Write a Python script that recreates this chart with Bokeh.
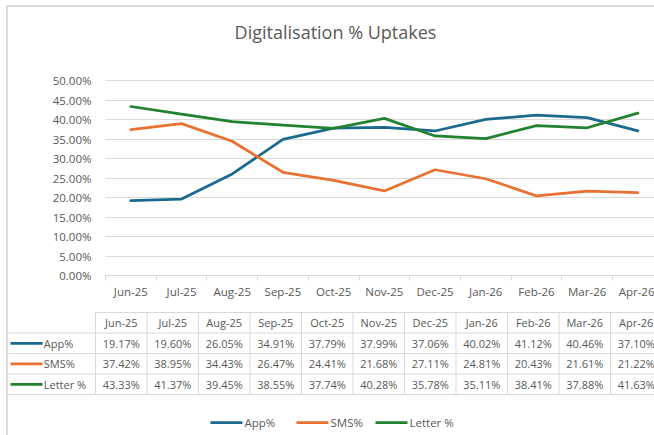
from bokeh.plotting import figure
from bokeh.models import Range1d, FixedTicker, NumeralTickFormatter
from bokeh.layouts import column
from bokeh.core.properties import value
from bokeh.embed import file_html
from bokeh.resources import INLINE

# ---- data ----
months = ["Jun-25", "Jul-25", "Aug-25", "Sep-25", "Oct-25", "Nov-25",
          "Dec-25", "Jan-26", "Feb-26", "Mar-26", "Apr-26"]
app_pct = [19.17, 19.60, 26.05, 34.91, 37.79, 37.99, 37.06, 40.02, 41.12, 40.46, 37.10]
sms_pct = [37.42, 38.95, 34.43, 26.47, 24.41, 21.68, 27.11, 24.81, 20.43, 21.61, 21.22]
letter_pct = [43.33, 41.37, 39.45, 38.55, 37.74, 40.28, 35.78, 35.11, 38.41, 37.88, 41.63]
series_names = ["App%", "SMS%", "Letter %"]
y_ticks = [0.0, 0.05, 0.10, 0.15, 0.20, 0.25, 0.30, 0.35, 0.40, 0.45, 0.50]
title_text = "Digitalisation % Uptakes"

colors = ["#1B6A8E", "#E97132", "#23822F"]
grey = "#595959"
rule = "#D9D9D9"
FONT = "Open Sans"
FS = "11.5px"
FS_T = "11px"
W = 654

series = [app_pct, sms_pct, letter_pct]
idx = list(range(len(months)))

# ---- title strip ----
tt = figure(width=W, height=45, output_backend="svg", toolbar_location=None,
            x_range=Range1d(0, W), y_range=Range1d(0, 45),
            x_axis_location=None, y_axis_location=None, min_border=0,
            frame_align=False)
tt.outline_line_color = None
tt.grid.visible = False
tt.background_fill_color = None
tt.border_fill_color = None
tt.text(x=[335], y=[14], text=[title_text], text_align="center",
        text_baseline="middle", text_font=value(FONT), text_font_size="18px",
        text_color=grey)

# ---- chart ----
p = figure(width=W, height=260, output_backend="svg", toolbar_location=None,
           x_range=Range1d(-0.5, -0.5 + 549 / 50.7),
           y_range=Range1d(0, 0.5 + 3 / 390.0), frame_align=False)
p.min_border_left = 105
p.min_border_right = 0
p.min_border_top = 32
p.min_border_bottom = 30
p.outline_line_color = None
p.background_fill_color = "white"
p.border_fill_color = None

for vals, c in zip(series, colors):
    p.line(x=idx, y=[v / 100 for v in vals], line_color=c, line_width=2.75,
           line_join="round", line_cap="round")

p.xgrid.visible = False
p.ygrid.ticker = FixedTicker(ticks=y_ticks)
p.ygrid.grid_line_color = rule
p.ygrid.grid_line_width = 1

xa = p.xaxis[0]
xa.ticker = FixedTicker(ticks=idx, minor_ticks=[i - 0.5 for i in range(len(months) + 1)])
xa.major_label_overrides = {i: m for i, m in zip(idx, months)}
xa.major_tick_line_color = None
xa.major_tick_out = 0
xa.major_tick_in = 0
xa.minor_tick_line_color = rule
xa.minor_tick_out = 5
xa.minor_tick_in = 0
xa.axis_line_color = rule
xa.major_label_standoff = 3
xa.major_label_text_font = FONT
xa.major_label_text_font_size = FS
xa.major_label_text_color = grey

ya = p.yaxis[0]
ya.ticker = FixedTicker(ticks=y_ticks)
ya.formatter = NumeralTickFormatter(format="0.00%")
ya.axis_line_color = None
ya.major_tick_line_color = None
ya.minor_tick_line_color = None
ya.major_tick_out = 0
ya.major_label_standoff = 14
ya.major_label_text_font = FONT
ya.major_label_text_font_size = FS
ya.major_label_text_color = grey

# ---- data table + legend ----
x0 = -0.5 - 95 / 51.5
x1 = -0.5 + 559 / 51.5
t = figure(width=W, height=130, output_backend="svg", toolbar_location=None,
           x_range=Range1d(x0, x1), y_range=Range1d(5.5, -0.5 - 7 / 20.5),
           x_axis_location=None, y_axis_location=None, min_border=0,
           frame_align=False)
t.outline_line_color = None
t.grid.visible = False
t.background_fill_color = None
t.border_fill_color = None

nrows = len(series) + 1
lx0 = x0 + 8 / 51.5
hy = [r - 0.5 for r in range(nrows + 1)]
hx0 = [-0.5] + [lx0] * nrows
t.segment(x0=hx0, y0=hy, x1=[x1 + 1] * len(hy), y1=hy, line_color=rule, line_width=1)
vx = [i - 0.5 for i in range(len(months) + 1)]
t.segment(x0=vx, y0=[-0.5] * len(vx), x1=vx, y1=[nrows - 0.5] * len(vx),
          line_color=rule, line_width=1)

t.text(x=idx, y=[0] * len(months), text=months, text_align="center",
       text_baseline="middle", text_font=value(FONT), text_font_size=FS_T,
       text_color=grey)
for r, (vals, c, name) in enumerate(zip(series, colors, series_names), start=1):
    t.text(x=idx, y=[r] * len(vals), text=["%.2f%%" % v for v in vals],
           text_align="center", text_baseline="middle", text_font=value(FONT),
           text_font_size=FS_T, text_color=grey)
    t.line(x=[x0 + 0.194, x0 + 0.816], y=[r, r], line_color=c, line_width=2.75)
    t.text(x=[x0 + 0.84], y=[r], text=[name], text_align="left",
           text_baseline="middle", text_font=value(FONT), text_font_size=FS_T,
           text_color=grey)

leg_y = -0.5 + 110 / 20.5
leg_x = [1.733, 3.403, 4.937]
for lx, c, name in zip(leg_x, colors, series_names):
    t.line(x=[lx, lx + 0.62], y=[leg_y, leg_y], line_color=c, line_width=2.75)
    t.text(x=[lx + 0.66], y=[leg_y], text=[name], text_align="left",
           text_baseline="middle", text_font=value(FONT), text_font_size=FS,
           text_color=grey)

layout = column(tt, p, t, spacing=0, styles={
    "background": "linear-gradient(#DCDCDC,#DCDCDC) 6px 5px / 2px 100% no-repeat, "
                  "linear-gradient(#DCDCDC,#DCDCDC) 6px 5px / 100% 2px no-repeat, white"})
open("out.html", "w").write(file_html(layout, INLINE))
